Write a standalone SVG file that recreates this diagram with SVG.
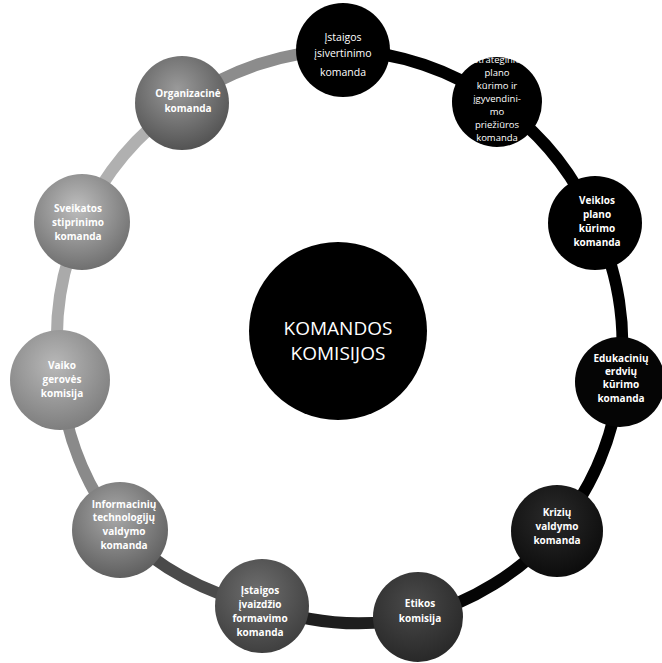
<svg xmlns="http://www.w3.org/2000/svg" width="662" height="663" viewBox="0 0 662 663">
<defs>
<radialGradient id="g5" cx="0.45" cy="0.35" r="0.7"><stop offset="0" stop-color="#2a2a2a"/><stop offset="1" stop-color="#0a0a0a"/></radialGradient>
<radialGradient id="g6" cx="0.45" cy="0.35" r="0.7"><stop offset="0" stop-color="#4a4a4a"/><stop offset="1" stop-color="#262626"/></radialGradient>
<radialGradient id="g7" cx="0.45" cy="0.35" r="0.7"><stop offset="0" stop-color="#6e6e6e"/><stop offset="1" stop-color="#3c3c3c"/></radialGradient>
<radialGradient id="g8" cx="0.45" cy="0.35" r="0.7"><stop offset="0" stop-color="#a8a8a8"/><stop offset="1" stop-color="#5a5a5a"/></radialGradient>
<radialGradient id="g9" cx="0.45" cy="0.35" r="0.7"><stop offset="0" stop-color="#b8b8b8"/><stop offset="1" stop-color="#7a7a7a"/></radialGradient>
<radialGradient id="g10" cx="0.45" cy="0.35" r="0.7"><stop offset="0" stop-color="#bdbdbd"/><stop offset="1" stop-color="#6a6a6a"/></radialGradient>
<radialGradient id="g11" cx="0.45" cy="0.35" r="0.7"><stop offset="0" stop-color="#9a9a9a"/><stop offset="1" stop-color="#4e4e4e"/></radialGradient>
</defs>
<style>
.c{fill:none;stroke-width:12;stroke-linecap:round}
.t{font-family:"Open Sans","DejaVu Sans",sans-serif;font-size:10.5px;fill:#fff;text-anchor:middle}
.s{font-size:9.5px}
.b{font-weight:bold;font-size:10px}
.m{font-family:"Open Sans","DejaVu Sans",sans-serif;font-size:19px;fill:#fff;text-anchor:middle}
</style>
<g id="connectors">
<path class="c" stroke="#8c8c8c" d="M182,103 A285,285 0 0 1 343,50"/>
<path class="c" stroke="#000" d="M343,50 A285,285 0 0 1 497,102"/>
<path class="c" stroke="#000" d="M497,102 A285,285 0 0 1 595,223"/>
<path class="c" stroke="#000" d="M595,223 A285,285 0 0 1 620,382"/>
<path class="c" stroke="#000" d="M620,382 A285,285 0 0 1 557,531"/>
<path class="c" stroke="#050505" d="M557,531 A285,285 0 0 1 418,617"/>
<path class="c" stroke="#1e1e1e" d="M418,617 A285,285 0 0 1 262,606"/>
<path class="c" stroke="#4a4a4a" d="M262,606 A285,285 0 0 1 120,530"/>
<path class="c" stroke="#8a8a8a" d="M120,530 A285,285 0 0 1 60,380"/>
<path class="c" stroke="#aaaaaa" d="M60,380 A285,285 0 0 1 82,222"/>
<path class="c" stroke="#b0b0b0" d="M82,222 A285,285 0 0 1 182,103"/>
</g>
<g id="center">
<circle cx="338" cy="331" r="89" fill="#000"/>
<text class="m" x="338" y="335">KOMANDOS</text>
<text class="m" x="338" y="360">KOMISIJOS</text>
</g>
<g id="n1">
<circle cx="343" cy="50" r="47" fill="#000"/>
<text class="t" x="343" y="41">Įstaigos</text>
<text class="t" x="343" y="57">įsivertinimo</text>
<text class="t" x="343" y="76">komanda</text>
</g>
<g id="n2">
<circle cx="497" cy="102" r="45" fill="#000"/>
<text class="t s" x="497" y="63">Strateginio</text>
<text class="t s" x="497" y="76">plano</text>
<text class="t s" x="497" y="89">kūrimo ir</text>
<text class="t s" x="497" y="102">įgyvendini-</text>
<text class="t s" x="497" y="115">mo</text>
<text class="t s" x="497" y="128">priežiūros</text>
<text class="t s" x="497" y="141">komanda</text>
</g>
<g id="n3">
<circle cx="595" cy="223" r="47" fill="#000"/>
<text class="t b" x="597" y="204">Veiklos</text>
<text class="t b" x="597" y="218">plano</text>
<text class="t b" x="597" y="232">kūrimo</text>
<text class="t b" x="597" y="246">komanda</text>
</g>
<g id="n4">
<circle cx="620" cy="382" r="45" fill="#050505"/>
<text class="t b s" x="621" y="362">Edukacinių</text>
<text class="t b s" x="621" y="375">erdvių</text>
<text class="t b s" x="621" y="388">kūrimo</text>
<text class="t b s" x="621" y="402">komanda</text>
</g>
<g id="n5">
<circle cx="557" cy="531" r="46" fill="url(#g5)"/>
<text class="t b" x="557" y="516">Krizių</text>
<text class="t b" x="557" y="530">valdymo</text>
<text class="t b" x="557" y="544">komanda</text>
</g>
<g id="n6">
<circle cx="418" cy="617" r="45" fill="url(#g6)"/>
<text class="t b" x="420" y="607">Etikos</text>
<text class="t b" x="420" y="622">komisija</text>
</g>
<g id="n7">
<circle cx="262" cy="606" r="47" fill="url(#g7)"/>
<text class="t b" x="260" y="594">Įstaigos</text>
<text class="t b" x="260" y="608">įvaizdžio</text>
<text class="t b" x="260" y="622">formavimo</text>
<text class="t b" x="260" y="636">komanda</text>
</g>
<g id="n8">
<circle cx="120" cy="530" r="48" fill="url(#g8)"/>
<text class="t b s" x="124" y="508">Informacinių</text>
<text class="t b s" x="124" y="521">technologijų</text>
<text class="t b s" x="124" y="535">valdymo</text>
<text class="t b s" x="124" y="549">komanda</text>
</g>
<g id="n9">
<circle cx="60" cy="380" r="50" fill="url(#g9)"/>
<text class="t b" x="62" y="369">Vaiko</text>
<text class="t b" x="62" y="383">gerovės</text>
<text class="t b" x="62" y="397">komisija</text>
</g>
<g id="n10">
<circle cx="82" cy="222" r="48" fill="url(#g10)"/>
<text class="t b" x="78" y="212">Sveikatos</text>
<text class="t b" x="78" y="226">stiprinimo</text>
<text class="t b" x="78" y="240">komanda</text>
</g>
<g id="n11">
<circle cx="182" cy="103" r="47" fill="url(#g11)"/>
<text class="t b" x="188" y="97">Organizacinė</text>
<text class="t b" x="188" y="112">komanda</text>
</g>
</svg>
